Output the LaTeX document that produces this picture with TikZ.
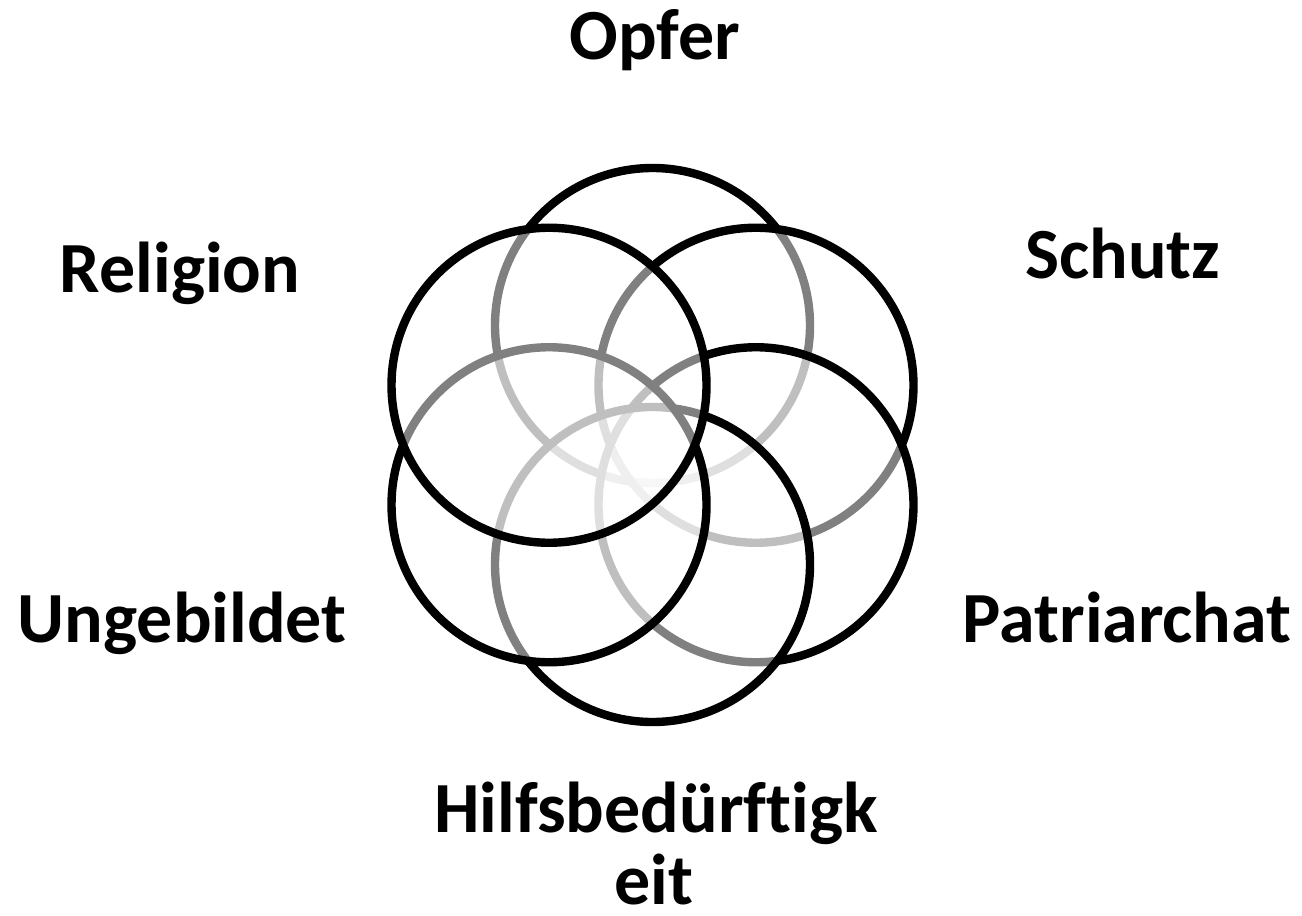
\documentclass[tikz,border=0pt]{standalone}
\usepackage{fontspec}
\setmainfont{Carlito}[Ligatures=NoCommon]
\usetikzlibrary{positioning,calc}

\begin{document}
\begin{tikzpicture}[
    x=0.75pt, y=-0.75pt,
    ring/.style={draw=black, line width=6.3pt, fill=white, fill opacity=0.5, draw opacity=1},
    term/.style={font=\fontsize{54}{57}\selectfont\bfseries, inner sep=0pt, anchor=base}
]
    \useasboundingbox (0,0) rectangle (1302,916);
    \coordinate (mid) at (652.5,445);

    % six rings clockwise from the top, each half white veil covering the earlier ones
    \foreach \a [count=\i] in {-90,-30,30,90,150,210}
        \coordinate (c\i) at ($(mid)+(\a:119.5)$);
    \foreach \i in {1,...,6}
        \draw[ring] (c\i) circle[radius=157.5];

    \node[term] (opfer) at (655,60) {Opfer};
    \node[term] (schutz) at (1123,278) {Schutz};
    \node[term] (religion) at (180,292) {Religion};
    \node[term] (ungebildet) at (182,642) {Ungebildet};
    \node[term] (patriarchat) at (1127,642) {Patriarchat};
    \node[term] (hilfe) at (656,832) {Hilfsbedürftigk};
    \node[term] (hilfeend) at (654,904) {eit};
\end{tikzpicture}
\end{document}
